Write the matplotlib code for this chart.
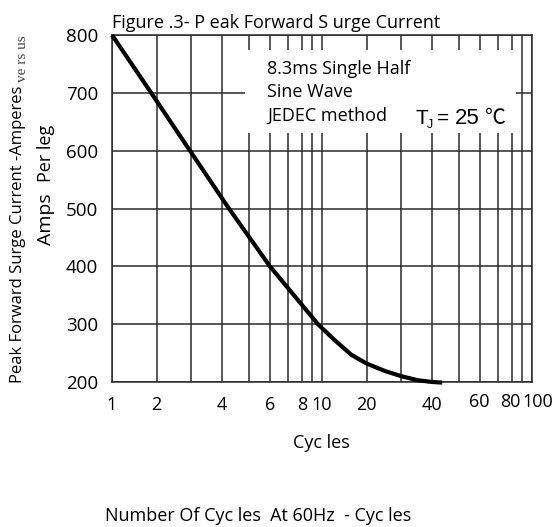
import numpy as np
import matplotlib.pyplot as plt
from matplotlib.patches import Rectangle
from matplotlib.transforms import ScaledTranslation

# ---- data ----
cycles = [1, 1.84, 2.95, 4.23, 6, 9.6, 12.1, 15.8, 20, 24.8, 30, 35, 40, 43.5]
amps = [800, 700, 600, 500, 400, 300, 273, 247, 232, 219, 210, 203, 200, 199]

x_ticks = [1, 2, 4, 6, 8, 10, 20, 40, 60, 80, 100]
x_minor = [3, 5, 7, 9, 30, 50, 70, 90]
y_ticks = [200, 300, 400, 500, 600, 700, 800]

# the printed log paper is not a true log scale: position of 1..10 inside a decade
paper_frac = [0, 0.212, 0.378, 0.525, 0.652, 0.752, 0.84, 0.905, 0.95, 1.0]

log_knots = np.log10(np.concatenate([np.arange(1, 10), np.arange(10, 101, 10)]))
pos_knots = np.concatenate([paper_frac[:-1], 1 + np.array(paper_frac)])


def fwd(x):
    x = np.asarray(x, dtype=float)
    return np.interp(np.log10(np.maximum(x, 1e-9)), log_knots, pos_knots)


def inv(p):
    return 10 ** np.interp(np.asarray(p, dtype=float), pos_knots, log_knots)


plt.rcParams['font.family'] = ['Open Sans', 'DejaVu Sans']
W, H = 557, 527
fig = plt.figure(figsize=(W / 100, H / 100), dpi=100)
ax = fig.add_axes([112 / W, 1 - 382 / H, 420 / W, 347 / H])


def px(x, y):
    # pixel position (from top-left) -> figure fraction
    return x / W, 1 - y / H


ax.set_xscale('function', functions=(fwd, inv))
ax.set_xlim(1, 100)
ax.set_ylim(200, 800)

ax.plot(cycles, amps, color='black', lw=3, zorder=3, clip_on=False,
        solid_capstyle='butt', solid_joinstyle='round')

ax.set_xticks(x_ticks)
ax.set_xticklabels([str(t) for t in x_ticks])
ax.set_xticks(x_minor, minor=True)
ax.set_yticks(y_ticks)
ax.set_yticklabels([str(t) for t in y_ticks])
ax.tick_params(which='both', length=0)
ax.tick_params(axis='x', pad=10, labelsize=13)
ax.tick_params(axis='y', pad=10, labelsize=13.5)

# the last few labels sit a little higher / to the side on the original
shifts = {'60': (-1, 3), '80': (-2, 3), '100': (6, 3)}
for lab in ax.get_xticklabels():
    if lab.get_text() in shifts:
        dx, dy = shifts[lab.get_text()]
        lab.set_transform(lab.get_transform() +
                          ScaledTranslation(dx / 100, dy / 100, fig.dpi_scale_trans))

ax.set_axisbelow(True)
ax.grid(True, which='both', color='#2a2a2a', lw=1.1)
for s in ax.spines.values():
    s.set_color('#2a2a2a')
    s.set_linewidth(1.1)

# white panel behind the note text
ax.add_patch(Rectangle((0.317, 0.718), 0.645, 0.239, transform=ax.transAxes,
                       facecolor='white', edgecolor='none', zorder=1))

fig.text(*px(267, 74), "8.3ms Single Half", fontsize=13, va='baseline')
fig.text(*px(267, 97), "Sine Wave", fontsize=13, va='baseline')
fig.text(*px(267, 121), "JEDEC method", fontsize=13, va='baseline')
tj_font = ['Liberation Sans', 'DejaVu Sans']
fig.text(*px(415, 124), "T", fontsize=15, va='baseline', family=tj_font)
fig.text(*px(427, 128), "J", fontsize=9, va='baseline', family=tj_font)
fig.text(*px(437, 124), "=", fontsize=15, va='baseline', family=tj_font)
fig.text(*px(455, 124), "25", fontsize=16, va='baseline', family=tj_font)
fig.text(*px(485, 124), "℃", fontsize=15, va='baseline',
         family=['Noto Sans CJK SC', 'DejaVu Sans'])

# title
fig.text(*px(112, 28), "Figure .3- P eak Forward S urge Current",
         fontsize=13, va='baseline', ha='left')

# y labels (rotated)
fig.text(*px(22, 383), "Peak Forward Surge Current -Amperes",
         rotation=90, rotation_mode='anchor', ha='left', va='baseline',
         fontsize=12)
fig.text(*px(26, 82), "ve rs us", rotation=90, rotation_mode='anchor',
         ha='left', va='baseline', fontsize=11, color='#444444',
         family=['Liberation Serif', 'DejaVu Serif'])
fig.text(*px(51, 245), "Amps", rotation=90, rotation_mode='anchor',
         ha='left', va='baseline', fontsize=14)
fig.text(*px(51, 182), "Per leg", rotation=90, rotation_mode='anchor',
         ha='left', va='baseline', fontsize=13)

# x labels
fig.text(*px(293, 448), "Cyc les", fontsize=13, va='baseline', ha='left')
fig.text(*px(105, 521), "Number Of Cyc les  At 60Hz  - Cyc les",
         fontsize=13, va='baseline', ha='left')

fig.savefig("out.png", dpi=100)
